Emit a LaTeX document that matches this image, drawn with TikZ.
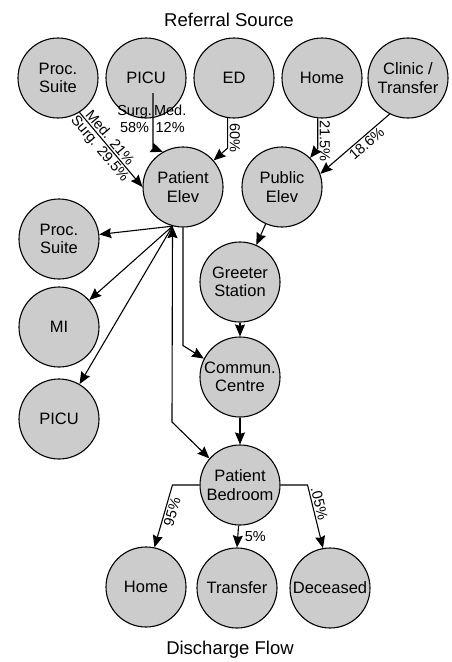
\documentclass[tikz,border=0pt]{standalone}
\usepackage{fontspec}
\setmainfont{Liberation Sans}
\usetikzlibrary{arrows.meta}

\tikzset{
  >={Stealth[length=12pt,width=10pt,inset=1.5pt]},
  place/.style={circle, draw, line width=1.1pt, fill=black!20, minimum size=80pt,
    inner sep=0pt, align=center, font=\fontsize{16.5}{18.5}\selectfont},
  flow/.style={line width=1.1pt, ->},
  twoway/.style={line width=1.1pt, <->},
  pct/.style={font=\fontsize{14.5}{17}\selectfont, inner sep=1.5pt, align=center},
  heading/.style={font=\fontsize{18.5}{20}\selectfont}
}

\begin{document}
\begin{tikzpicture}[x=1pt,y=-1pt]
    \useasboundingbox (0,0) rectangle (451,662);
    \node[heading] (refsrc) at (229,20) {Referral Source};
    \node[place] (procsrc)   at (58,78)  {Proc.\\Suite};
    \node[place] (picusrc)   at (146,78) {PICU};
    \node[place] (edsrc)     at (234,78) {ED};
    \node[place] (homesrc)   at (322,78) {Home};
    \node[place] (clinicsrc) at (408,78) {Clinic /\\Transfer};
    \node[place] (patelev)   at (183,187) {Patient\\Elev};
    \node[place] (pubelev)   at (282,187) {Public\\Elev};
    \node[place] (procout)   at (59,239) {Proc.\\Suite};
    \node[place] (miout)     at (59,327) {MI};
    \node[place] (picuout)   at (59,419) {PICU};
    \node[place] (greeter)   at (240,282) {Greeter\\Station};
    \node[place] (commun)    at (240,377) {Commun.\\Centre};
    \node[place] (bedroom)   at (240,485) {Patient\\Bedroom};
    \node[place] (homeout)   at (146,587) {Home};
    \node[place] (transout)  at (237,588) {Transfer};
    \node[place] (deceased)  at (330,588) {Deceased};
    \node[heading] (discflow) at (230,650) {Discharge Flow};

    \coordinate (hub) at (patelev.-105);
    \coordinate (bedbend) at (172,422);

    \draw[flow] (procsrc.-58) -- node[pct, sloped, above, pos=0.4] {Med. 21\%}
        node[pct, sloped, below, pos=0.42] {Surg. 29.5\%} (patelev.west);
    \draw[flow] ([xshift=7pt,yshift=-15pt]picusrc.center) --
        node[pct, left, pos=0.47, xshift=1pt] {Surg.\\58\%}
        node[pct, right, pos=0.47, xshift=-1pt] {Med.\\12\%} ++(0,55) -- (patelev.120);
    \draw[flow] (edsrc.-99) -- node[pct, rotate=-90, anchor=south, pos=0.65] {60\%}
        ++(0,30) -- (patelev.41);
    \draw[flow] (homesrc.-96) -- node[pct, rotate=-90, anchor=south, pos=0.75] {21.5\%}
        ++(0,30) -- (pubelev.46);
    \draw[flow] (clinicsrc.-117) -- node[pct, sloped, below, pos=0.4] {18.6\%} (pubelev.19);

    \draw[flow] (hub) -- (procout);
    \draw[flow] (hub) -- (miout);
    \draw[flow] (hub) -- (picuout);
    \draw[flow] (patelev.south) -- ++(0,118) -- (commun.153);
    \draw[twoway] (hub) -- (bedbend) -- (bedroom.139);

    \draw[flow] (pubelev) -- (greeter);
    \draw[flow] (greeter) -- (commun);
    \draw[flow] (commun) -- (bedroom);

    \draw[flow] (bedroom.west) -- ++(-27,0) -- node[pct, sloped, below, pos=0.4] {95\%} (homeout.78);
    \draw[flow] (bedroom.-92) -- node[pct, right, pos=0.5, xshift=5pt] {5\%} (transout.north);
    \draw[flow] (bedroom.east) -- ++(27,0) -- node[pct, sloped, above, pos=0.32] {.05\%} (deceased.100);
\end{tikzpicture}
\end{document}
